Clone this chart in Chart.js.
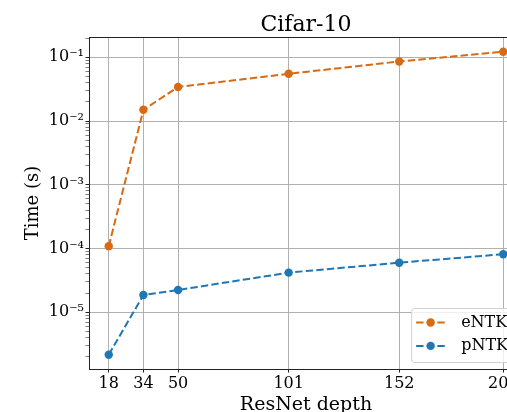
<!DOCTYPE html>
<html>
<head>
<meta charset="utf-8">
<title>Cifar-10 NTK timing</title>
<script src="https://cdn.jsdelivr.net/npm/chart.js@4"></script>
<style>
  html, body { margin: 0; padding: 0; background: #fff; overflow: hidden; }
  #wrap { width: 540px; height: 430px; }
</style>
</head>
<body>
<div id="wrap"><canvas id="timeChart" width="540" height="430"></canvas></div>
<script>
// ResNet depths (x axis)
const depths = [18, 34, 50, 101, 152, 200];
// Time per evaluation in seconds
const entkTimes = [1.09e-4, 1.50e-2, 3.42e-2, 5.51e-2, 8.59e-2, 1.22e-1];
const pntkTimes = [2.16e-6, 1.87e-5, 2.24e-5, 4.19e-5, 6.0e-5, 8.14e-5];
const xTicks = [18, 34, 50, 101, 152, 200];
const seriesNames = ['eNTK', 'pNTK'];
const seriesColors = ['#d96a14', '#1f77b4'];

const FONT = '"DejaVu Serif", "Liberation Serif", serif';
const DASH = [7.4, 3.2];

const SUP = { '-': '\u207B', '0': '\u2070', '1': '\u00B9', '2': '\u00B2', '3': '\u00B3',
  '4': '\u2074', '5': '\u2075', '6': '\u2076', '7': '\u2077', '8': '\u2078', '9': '\u2079' };
function powLabel(exp) {
  return '10' + String(exp).split('').map(c => SUP[c]).join('');
}

// top + right spines
const frame = {
  id: 'frame',
  afterDatasetsDraw(chart) {
    const { ctx, chartArea: a } = chart;
    ctx.save();
    ctx.strokeStyle = '#222';
    ctx.lineWidth = 1;
    ctx.beginPath();
    ctx.moveTo(a.left, a.top + 0.5);
    ctx.lineTo(a.right + 0.5, a.top + 0.5);
    ctx.lineTo(a.right + 0.5, a.bottom);
    ctx.stroke();
    ctx.restore();
  }
};

// legend boxed in the lower right corner of the plot
const insideLegend = {
  id: 'insideLegend',
  afterDraw(chart) {
    const { ctx, chartArea: a } = chart;
    ctx.save();
    ctx.font = '16px ' + FONT;
    const textW = Math.max(...seriesNames.map(n => ctx.measureText(n).width));
    const pad = 5, handle = 29, gap = 16, rowH = 23.4;
    const w = pad + handle + gap + textW + 8;
    const h = 54;
    const right = a.right - 7, bottom = a.bottom - 7;
    const left = right - w, top = bottom - h;

    ctx.beginPath();
    ctx.roundRect(left + 0.5, top + 0.5, w, h, 3);
    ctx.fillStyle = 'rgba(255,255,255,0.8)';
    ctx.fill();
    ctx.strokeStyle = '#d0d0d0';
    ctx.lineWidth = 1;
    ctx.stroke();

    chart.data.datasets.forEach((ds, i) => {
      const y = top + 14.5 + i * rowH;
      const x0 = left + pad;
      ctx.strokeStyle = ds.borderColor;
      ctx.lineWidth = 2;
      ctx.setLineDash(DASH);
      ctx.beginPath();
      ctx.moveTo(x0, y);
      ctx.lineTo(x0 + handle, y);
      ctx.stroke();
      ctx.setLineDash([]);
      ctx.fillStyle = ds.pointBackgroundColor;
      ctx.beginPath();
      ctx.arc(x0 + handle / 2, y, 4.2, 0, Math.PI * 2);
      ctx.fill();
      ctx.fillStyle = '#000';
      ctx.textBaseline = 'middle';
      ctx.fillText(ds.label, x0 + handle + gap, y);
    });
    ctx.restore();
  }
};

function makeSeries(label, values, color) {
  return {
    label: label,
    data: depths.map((d, i) => ({ x: d, y: values[i] })),
    borderColor: color,
    backgroundColor: color,
    pointBackgroundColor: color,
    pointBorderWidth: 0,
    pointRadius: 4.2,
    borderWidth: 2,
    borderDash: DASH,
    fill: false,
    tension: 0
  };
}

new Chart(document.getElementById('timeChart'), {
  type: 'line',
  data: {
    datasets: [
      makeSeries(seriesNames[0], entkTimes, seriesColors[0]),
      makeSeries(seriesNames[1], pntkTimes, seriesColors[1])
    ]
  },
  options: {
    responsive: false,
    animation: false,
    devicePixelRatio: 1,
    layout: { padding: { left: 0, right: 17, top: 0, bottom: 0 } },
    plugins: {
      legend: { display: false },
      tooltip: { enabled: false },
      title: {
        display: true,
        text: 'Cifar-10',
        fullSize: false,
        color: '#000',
        font: { family: FONT, size: 22, weight: 'normal', lineHeight: 1 },
        padding: { top: 14, bottom: 1 }
      }
    },
    scales: {
      x: {
        type: 'linear',
        min: 8.9,
        max: 209.1,
        afterBuildTicks: scale => { scale.ticks = xTicks.map(v => ({ value: v })); },
        afterFit: scale => { scale.height = 61; },
        ticks: {
          autoSkip: false,
          maxRotation: 0,
          padding: 1.5,
          color: '#000',
          font: { family: FONT, size: 16 },
          callback: v => String(v)
        },
        grid: { color: '#b0b0b0', lineWidth: 1, tickLength: 3.5, tickColor: '#222' },
        border: { display: true, color: '#222', width: 1 },
        title: {
          display: true,
          text: 'ResNet depth',
          color: '#000',
          font: { family: FONT, size: 19 },
          padding: { top: 0, bottom: 14 }
        }
      },
      y: {
        type: 'logarithmic',
        min: 1.29e-6,
        max: 0.208,
        afterBuildTicks: scale => {
          const ticks = [];
          const e0 = Math.floor(Math.log10(scale.min));
          const e1 = Math.ceil(Math.log10(scale.max));
          for (let e = e0; e <= e1; e++) {
            for (let m = 1; m <= 9; m++) {
              const v = m * Math.pow(10, e);
              if (v >= scale.min && v <= scale.max) ticks.push({ value: v, major: m === 1 });
            }
          }
          scale.ticks = ticks;
        },
        afterFit: scale => { scale.width = 89; },
        ticks: {
          autoSkip: false,
          padding: 1.5,
          color: '#000',
          font: { family: FONT, size: 16 },
          callback: (v, i, ticks) => ticks[i].major ? powLabel(Math.round(Math.log10(v))) : ''
        },
        grid: {
          color: c => (c.tick && c.tick.major) ? '#b0b0b0' : 'rgba(0,0,0,0)',
          lineWidth: 1,
          tickLength: 3.5,
          tickColor: '#222',
          tickWidth: c => (c.tick && c.tick.major) ? 1 : 0.6
        },
        border: { display: true, color: '#222', width: 1 },
        title: {
          display: true,
          text: 'Time (s)',
          color: '#000',
          font: { family: FONT, size: 18 },
          padding: { top: 23, bottom: 0 }
        }
      }
    }
  },
  plugins: [frame, insideLegend]
});
</script>
</body>
</html>
